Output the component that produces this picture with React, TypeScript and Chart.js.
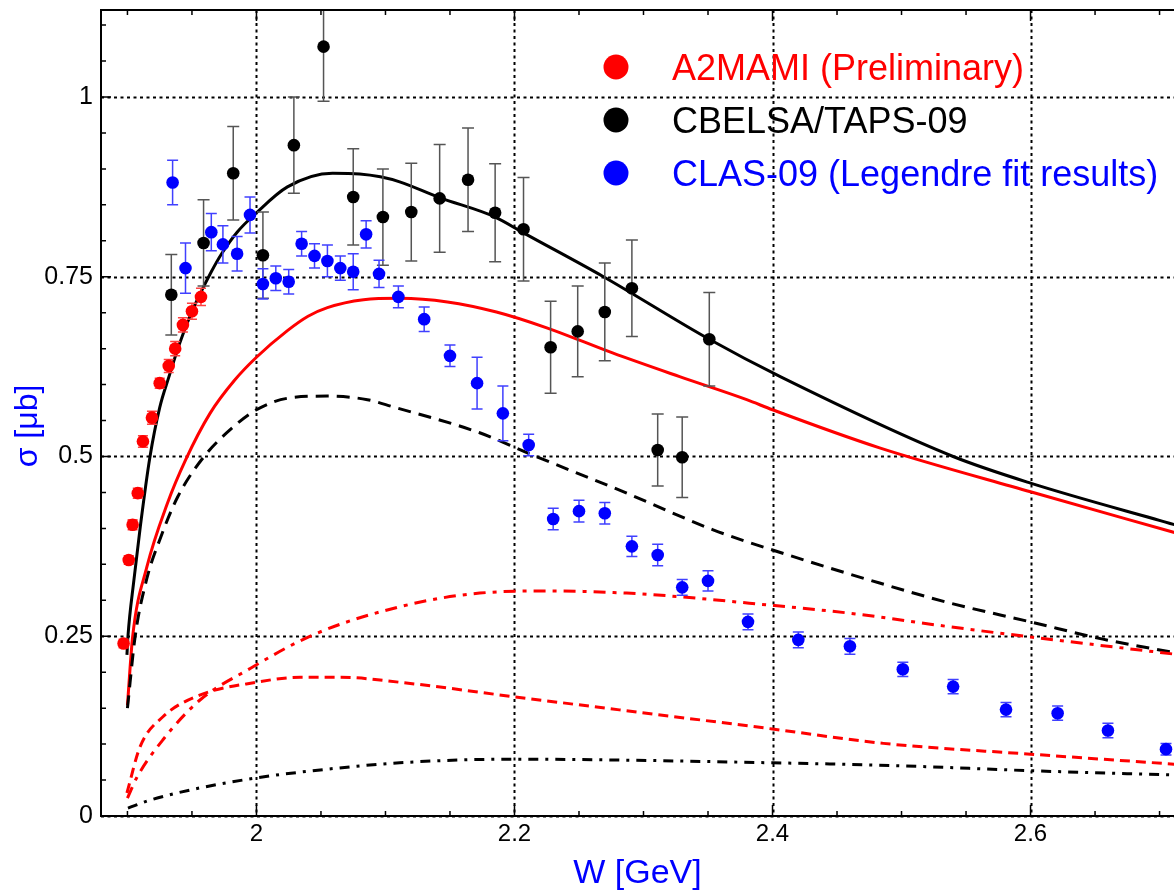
import React, { useEffect, useRef } from "react";
import { Chart, registerables } from "chart.js";

Chart.register(...registerables);

const FONT = '"Liberation Sans", Arial, Helvetica, sans-serif';

// Axis ranges and ticks
const xMin = 1.8795;
const xMax = 2.7112;
const yMin = 0;
const yMax = 1.121;
const xTickValues = [2, 2.2, 2.4, 2.6];
const xTickLabels = ["2", "2.2", "2.4", "2.6"];
const yTickValues = [0, 0.25, 0.5, 0.75, 1];
const yTickLabels = ["0", "0.25", "0.5", "0.75", "1"];
const xGridValues = [2, 2.2, 2.4, 2.6];
const yGridValues = [0, 0.25, 0.5, 0.75, 1];
const xMinorTicks = [1.9, 1.95, 2.05, 2.1, 2.15, 2.25, 2.3, 2.35, 2.45, 2.5, 2.55, 2.65, 2.7];
const yMinorTicks = [0.05, 0.1, 0.15, 0.2, 0.3, 0.35, 0.4, 0.45, 0.55, 0.6, 0.65, 0.7, 0.8, 0.85, 0.9, 0.95, 1.05, 1.1];

const xTitle = "W [GeV]";
const yTitle = "σ [μb]";

// A2MAMI (Preliminary)
const a2W = [1.897, 1.901, 1.904, 1.908, 1.912, 1.919, 1.925, 1.932, 1.937, 1.943, 1.95, 1.957];
const a2Sigma = [0.24, 0.356, 0.405, 0.449, 0.521, 0.554, 0.602, 0.626, 0.65, 0.683, 0.702, 0.722];
const a2Err = [0.006, 0.006, 0.007, 0.007, 0.008, 0.009, 0.007, 0.009, 0.01, 0.01, 0.011, 0.012];

// CBELSA/TAPS-09
const cbW = [1.934, 1.959, 1.982, 2.005, 2.029, 2.052, 2.075, 2.098, 2.12, 2.142, 2.164, 2.185, 2.207, 2.228, 2.249, 2.27, 2.291, 2.311, 2.33, 2.351];
const cbSigma = [0.725, 0.797, 0.894, 0.78, 0.933, 1.07, 0.861, 0.833, 0.84, 0.859, 0.885, 0.839, 0.816, 0.652, 0.674, 0.701, 0.734, 0.509, 0.499, 0.663];
const cbErr = [0.056, 0.06, 0.065, 0.06, 0.067, 0.076, 0.067, 0.067, 0.068, 0.075, 0.072, 0.068, 0.072, 0.064, 0.063, 0.068, 0.067, 0.05, 0.056, 0.065];

// CLAS-09 (Legendre fit results)
const clasW = [1.935, 1.945, 1.965, 1.974, 1.985, 1.995, 2.005, 2.015, 2.025, 2.035, 2.045, 2.055, 2.065, 2.075, 2.085, 2.095, 2.11, 2.13, 2.15, 2.171, 2.191, 2.211, 2.23, 2.25, 2.27, 2.291, 2.311, 2.33, 2.35, 2.381, 2.42, 2.46, 2.501, 2.54, 2.581, 2.621, 2.66, 2.705];
const clasSigma = [0.881, 0.762, 0.812, 0.795, 0.782, 0.836, 0.74, 0.748, 0.743, 0.796, 0.779, 0.772, 0.762, 0.757, 0.809, 0.754, 0.722, 0.691, 0.64, 0.602, 0.56, 0.516, 0.413, 0.424, 0.421, 0.375, 0.363, 0.318, 0.327, 0.27, 0.245, 0.236, 0.204, 0.18, 0.148, 0.143, 0.119, 0.093];
const clasErr = [0.031, 0.035, 0.026, 0.026, 0.024, 0.025, 0.021, 0.017, 0.017, 0.017, 0.017, 0.022, 0.017, 0.025, 0.019, 0.019, 0.015, 0.017, 0.015, 0.036, 0.038, 0.015, 0.015, 0.015, 0.015, 0.014, 0.015, 0.011, 0.014, 0.011, 0.011, 0.011, 0.01, 0.01, 0.01, 0.01, 0.01, 0.008];

// Model curves
const blackSolidW = [1.8996, 1.9004, 1.905, 1.91, 1.9174, 1.925, 1.932, 1.94, 1.948, 1.956, 1.965, 1.973, 1.985, 2.0, 2.024, 2.059, 2.08, 2.096, 2.111, 2.142, 2.185, 2.207, 2.269, 2.351, 2.406, 2.54, 2.6, 2.712];
const blackSolidS = [0.224, 0.25, 0.328, 0.403, 0.499, 0.568, 0.61, 0.655, 0.693, 0.725, 0.757, 0.782, 0.812, 0.839, 0.875, 0.894, 0.893, 0.889, 0.882, 0.86, 0.833, 0.811, 0.75, 0.663, 0.611, 0.5, 0.463, 0.405];

const redSolidW = [1.9, 1.904, 1.915, 1.931, 1.945, 1.964, 1.983, 2.0, 2.024, 2.04, 2.055, 2.083, 2.111, 2.148, 2.186, 2.225, 2.276, 2.328, 2.38, 2.4, 2.483, 2.6, 2.712];
const redSolidS = [0.154, 0.249, 0.346, 0.435, 0.495, 0.56, 0.606, 0.638, 0.675, 0.695, 0.707, 0.718, 0.72, 0.715, 0.701, 0.679, 0.644, 0.611, 0.579, 0.565, 0.512, 0.451, 0.394];

const blackDashW = [1.9, 1.906, 1.915, 1.925, 1.939, 1.959, 1.982, 2.0, 2.024, 2.055, 2.086, 2.106, 2.173, 2.21, 2.287, 2.354, 2.4, 2.483, 2.538, 2.6, 2.656, 2.712];
const blackDashS = [0.15, 0.25, 0.33, 0.384, 0.444, 0.499, 0.541, 0.565, 0.581, 0.584, 0.579, 0.569, 0.533, 0.505, 0.449, 0.398, 0.37, 0.324, 0.296, 0.27, 0.246, 0.227];

const redDashDotW = [1.9, 1.9074, 1.9275, 1.956, 1.993, 2.044, 2.111, 2.173, 2.23, 2.287, 2.328, 2.382, 2.46, 2.538, 2.6, 2.712];
const redDashDotS = [0.025, 0.054, 0.106, 0.161, 0.203, 0.252, 0.291, 0.31, 0.313, 0.31, 0.305, 0.296, 0.282, 0.263, 0.249, 0.225];

const redDashW = [1.8996, 1.9097, 1.9275, 1.956, 2.0, 2.034, 2.065, 2.111, 2.199, 2.4, 2.486, 2.6, 2.712];
const redDashS = [0.032, 0.096, 0.138, 0.168, 0.186, 0.193, 0.193, 0.186, 0.166, 0.121, 0.101, 0.086, 0.072];

const blackDashDotW = [1.9004, 1.9174, 1.956, 2.0, 2.034, 2.111, 2.199, 2.4, 2.496, 2.6, 2.712];
const blackDashDotS = [0.011, 0.022, 0.039, 0.053, 0.061, 0.074, 0.079, 0.074, 0.07, 0.063, 0.057];

// Legend
const legendLabels = ["A2MAMI (Preliminary)", "CBELSA/TAPS-09", "CLAS-09 (Legendre fit results)"];
const legendColors = ["#ff0000", "#000000", "#0000ff"];

const toPoints = (xs: number[], ys: number[]) => xs.map((x, i) => ({ x, y: ys[i] }));

const gridPlugin = {
  id: "rootGrid",
  beforeDatasetsDraw(chart: any) {
    const { ctx, chartArea, scales } = chart;
    const xs = scales.x;
    const ys = scales.y;
    ctx.save();
    ctx.strokeStyle = "#000";
    ctx.lineWidth = 2;
    ctx.setLineDash([3, 3.5]);
    xGridValues.forEach((v) => {
      const p = Math.round(xs.getPixelForValue(v)) + 0.5;
      ctx.beginPath();
      ctx.moveTo(p, chartArea.top);
      ctx.lineTo(p, chartArea.bottom);
      ctx.stroke();
    });
    yGridValues.forEach((v) => {
      const p = Math.round(ys.getPixelForValue(v)) + 0.5;
      ctx.beginPath();
      ctx.moveTo(chartArea.left, p);
      ctx.lineTo(chartArea.right, p);
      ctx.stroke();
    });
    ctx.restore();
  },
  beforeDatasetDraw(chart: any, args: any) {
    const ds = chart.data.datasets[args.index];
    if (!ds.errors) return;
    const { ctx, chartArea, scales } = chart;
    const xs = scales.x;
    const ys = scales.y;
    ctx.save();
    ctx.beginPath();
    ctx.rect(chartArea.left, chartArea.top, chartArea.right - chartArea.left, chartArea.bottom - chartArea.top);
    ctx.clip();
    ctx.strokeStyle = ds.errorColor;
    ctx.lineWidth = 1.5;
    const cap = ds.capHalf;
    ds.data.forEach((p: any, i: number) => {
      const e = ds.errors[i];
      const px = xs.getPixelForValue(p.x);
      const y1 = ys.getPixelForValue(p.y + e);
      const y2 = ys.getPixelForValue(p.y - e);
      ctx.beginPath();
      ctx.moveTo(px, y1);
      ctx.lineTo(px, y2);
      ctx.moveTo(px - cap, y1);
      ctx.lineTo(px + cap, y1);
      ctx.moveTo(px - cap, y2);
      ctx.lineTo(px + cap, y2);
      ctx.stroke();
    });
    ctx.restore();
  },
  afterDatasetsDraw(chart: any) {
    const { ctx, chartArea, scales } = chart;
    const xs = scales.x;
    const ys = scales.y;
    const { left, right, top, bottom } = chartArea;
    ctx.save();
    ctx.strokeStyle = "#000";
    ctx.lineWidth = 2;
    ctx.setLineDash([]);
    ctx.beginPath();
    ctx.moveTo(right + 2, top);
    ctx.lineTo(left, top);
    ctx.lineTo(left, bottom);
    ctx.lineTo(right + 2, bottom);
    ctx.stroke();
    ctx.lineWidth = 1.5;
    ctx.beginPath();
    yTickValues.forEach((v) => {
      const p = ys.getPixelForValue(v);
      ctx.moveTo(left, p);
      ctx.lineTo(left + 10, p);
    });
    yMinorTicks.forEach((v) => {
      const p = ys.getPixelForValue(v);
      ctx.moveTo(left, p);
      ctx.lineTo(left + 5, p);
    });
    xTickValues.forEach((v) => {
      const p = xs.getPixelForValue(v);
      ctx.moveTo(p, bottom);
      ctx.lineTo(p, bottom - 11);
      ctx.moveTo(p, top);
      ctx.lineTo(p, top + 11);
    });
    xMinorTicks.forEach((v) => {
      const p = xs.getPixelForValue(v);
      ctx.moveTo(p, bottom);
      ctx.lineTo(p, bottom - 5);
      ctx.moveTo(p, top);
      ctx.lineTo(p, top + 5);
    });
    ctx.stroke();
    ctx.restore();
  },
  afterDraw(chart: any) {
    const { ctx } = chart;
    const mx = 616;
    const ys = [67, 120, 173];
    ctx.save();
    ctx.font = `36px ${FONT}`;
    ctx.textAlign = "left";
    ctx.textBaseline = "alphabetic";
    legendLabels.forEach((label, i) => {
      ctx.fillStyle = legendColors[i];
      ctx.beginPath();
      ctx.arc(mx, ys[i], 12.5, 0, Math.PI * 2);
      ctx.fill();
      ctx.fillText(label, 672, ys[i] + 13);
    });
    ctx.restore();
    // y-axis title
    ctx.save();
    ctx.translate(28, 426);
    ctx.rotate(-Math.PI / 2);
    ctx.font = `32px ${FONT}`;
    ctx.fillStyle = "#0000ff";
    ctx.textAlign = "center";
    ctx.textBaseline = "middle";
    ctx.fillText(yTitle, 0, 0);
    ctx.restore();
  },
};

export default function App() {
  const canvasRef = useRef<HTMLCanvasElement | null>(null);

  useEffect(() => {
    const canvas = canvasRef.current;
    if (!canvas) return;
    const lineDs = (xs: number[], ys: number[], color: string, dash: number[], width = 3) => ({
      type: "line" as const,
      data: toPoints(xs, ys),
      borderColor: color,
      backgroundColor: color,
      borderWidth: width,
      borderDash: dash,
      pointRadius: 0,
      fill: false,
      cubicInterpolationMode: "monotone" as const,
      order: 10,
    });
    const pointDs = (label: string, xs: number[], ys: number[], errs: number[], color: string, errColor: string, capHalf: number, order: number) => ({
      type: "scatter" as const,
      label,
      data: toPoints(xs, ys),
      backgroundColor: color,
      borderColor: color,
      borderWidth: 0,
      pointRadius: 6.3,
      showLine: false,
      errors: errs,
      errorColor: errColor,
      capHalf,
      order,
    });

    const chart = new Chart(canvas, {
      type: "scatter",
      data: {
        datasets: [
          lineDs(blackDashDotW, blackDashDotS, "#000000", [10, 7, 3, 7]),
          lineDs(redDashW, redDashS, "#ff0000", [10, 6]),
          lineDs(redDashDotW, redDashDotS, "#ff0000", [12, 7, 4, 7]),
          lineDs(blackDashW, blackDashS, "#000000", [13, 8]),
          lineDs(redSolidW, redSolidS, "#ff0000", []),
          lineDs(blackSolidW, blackSolidS, "#000000", []),
          pointDs(legendLabels[0], a2W, a2Sigma, a2Err, "#ff0000", "#ff4040", 5, 3),
          pointDs(legendLabels[1], cbW, cbSigma, cbErr, "#000000", "#555555", 6, 2),
          pointDs(legendLabels[2], clasW, clasSigma, clasErr, "#0000ff", "#4040ff", 5.5, 1),
        ] as any,
      },
      options: {
        responsive: false,
        animation: false,
        events: [],
        layout: { autoPadding: false, padding: { top: 10, left: 0, right: 0, bottom: 0 } },
        plugins: {
          legend: { display: false },
          tooltip: { enabled: false },
          title: { display: false },
        },
        scales: {
          x: {
            type: "linear",
            min: xMin,
            max: xMax,
            afterBuildTicks: (s: any) => {
              s.ticks = xTickValues.map((v) => ({ value: v }));
            },
            afterFit: (s: any) => {
              s.height = 78;
              s.paddingLeft = 0;
              s.paddingRight = 0;
            },
            ticks: {
              autoSkip: false,
              maxRotation: 0,
              padding: 4,
              color: "#000",
              font: { family: FONT, size: 24 },
              callback: (_v: any, i: number) => xTickLabels[i],
            },
            grid: { display: false, drawTicks: false },
            border: { display: false },
            title: {
              display: true,
              text: xTitle,
              color: "#0000ff",
              font: { family: FONT, size: 34 },
              padding: { top: 0, bottom: 0 },
            },
          },
          y: {
            type: "linear",
            min: yMin,
            max: yMax,
            afterBuildTicks: (s: any) => {
              s.ticks = yTickValues.map((v) => ({ value: v }));
            },
            afterFit: (s: any) => {
              s.width = 101;
              s.paddingTop = 0;
              s.paddingBottom = 0;
            },
            ticks: {
              autoSkip: false,
              padding: 8,
              color: "#000",
              font: { family: FONT, size: 25 },
              callback: (_v: any, i: number) => yTickLabels[i],
            },
            grid: { display: false, drawTicks: false },
            border: { display: false },
            title: { display: false },
          },
        },
      } as any,
      plugins: [gridPlugin],
    });
    return () => chart.destroy();
  }, []);

  return (
    <div style={{ position: "absolute", left: 0, top: 0, width: 1174, height: 894, background: "#fff" }}>
      <canvas ref={canvasRef} width={1174} height={894} style={{ display: "block" }} />
    </div>
  );
}
